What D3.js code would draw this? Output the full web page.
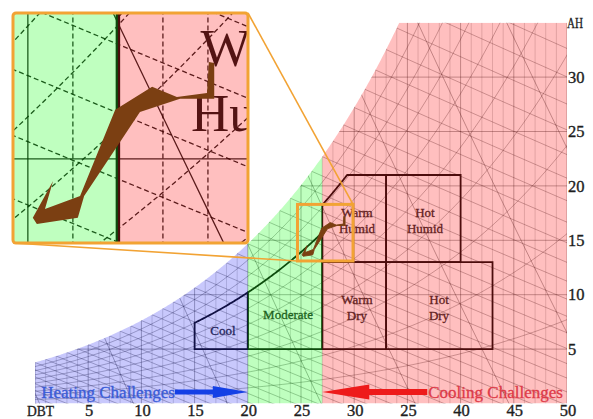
<!DOCTYPE html>
<html>
<head>
<meta charset="utf-8">
<script src="https://cdn.jsdelivr.net/npm/d3@7/dist/d3.min.js"></script>
<style>
  html, body { margin: 0; padding: 0; background: #ffffff; }
  svg { display: block; }
  text { font-family: "Liberation Serif", "Times New Roman", serif; }
</style>
</head>
<body>
<svg id="chart" width="593" height="419"></svg>
<script>
// ---- axes ----
const dbtDomain = [0, 50];   // dry-bulb temperature, °C
const ahDomain = [0, 35];    // absolute humidity, g/kg
const dbtTicks = [5, 10, 15, 20, 25, 30, 35, 40, 45, 50];
const dbtTickLabels = ["5", "10", "15", "20", "25", "30", "25", "40", "45", "50"];
const ahTicks = [5, 10, 15, 20, 25, 30];

// ---- psychrometric grid levels ----
const dbtGrid = d3.range(0, 51, 1);                       // °C
const ahGrid = [5, 10, 15, 20, 25, 30];                   // g/kg
const rhGrid = [10, 20, 30, 40, 50, 60, 70, 80, 90];      // %
const wetBulbGrid = d3.range(-6, 37, 1);                  // °C
const volumeGrid = [0.775, 0.8, 0.825, 0.85, 0.875, 0.9, 0.925, 0.95]; // m3/kg

// ---- climate bands along DBT ----
const bandNames = ["Heating", "Moderate", "Cooling"];
const bandStart = [0, 20, 27];
const bandEnd = [20, 27, 50];
const bandColor = ["#1010f0", "#00ff00", "#ff0000"];

// ---- comfort zones ----
const zoneNames = ["Cool", "Moderate", "Warm Humid", "Hot Humid", "Warm Dry", "Hot Dry"];
const zoneDbtMin = [15, 20, 27, 33, 27, 33];
const zoneDbtMax = [20, 27, 33, 40, 33, 43];
const zoneAhMin = [5, 5, 13, 13, 5, 5];
const zoneAhMax = [35, 35, 21, 21, 13, 13];
const zoneRhMax = [70, 70, 81, 100, 100, 100];

// ---- measured indoor trajectory (outline of the plotted band) ----
const trajDbt = [25.11, 25.56, 25.38, 26.16, 26.94, 27.76, 28.31, 28.98, 29.02, 29.14, 29.14, 28.38, 27.49, 26.25, 26.11, 25.20];
const trajAh  = [13.67, 14.50, 13.87, 14.16, 16.11, 16.63, 16.40, 16.49, 17.19, 17.17, 16.36, 16.36, 16.06, 14.16, 13.67, 13.53];

// ---- magnified window ----
const zoomDbt = [24.67, 29.89];
const zoomAh = [13.1, 18.3];

// ---- layout ----
const zoneLabelDbt = [17.67, 23.78, 30.26, 36.65, 30.26, 37.97];
const zoneLabelAh = [6.76, 8.23, 16.78, 16.78, 8.85, 8.85];
const labelLineAh = 1.47;
const trajColor = "#7b3f12";
const orange = "#f2a334";

// ---- psychrometrics ----
const P = 101.325;
const pws = t => 0.6112 * Math.exp(17.67 * t / (t + 243.5));
const wFromPv = pv => 622 * pv / (P - pv);
const wSat = t => wFromPv(pws(t));
const wRH = (t, rh) => wFromPv(rh / 100 * pws(t));
const wWetBulb = (t, tw) => {
  const ws = wSat(tw) / 1000;
  return 1000 * ((2501 - 2.326 * tw) * ws - 1.006 * (t - tw)) / (2501 + 1.86 * t - 4.186 * tw);
};
const wVolume = (t, v) => 1000 * (v * P / (0.287042 * (t + 273.15)) - 1) / 1.607858;

// saturation temperature at the top of the chart
let lo = 20, hi = 45;
for (let k = 0; k < 60; k++) { const m = (lo + hi) / 2; if (wSat(m) < ahDomain[1]) lo = m; else hi = m; }
const tTop = lo;

function saturationOutline() {
  const pts = [[dbtDomain[0], ahDomain[0]]];
  for (let t = dbtDomain[0]; t < tTop; t += 0.1) pts.push([t, wSat(t)]);
  pts.push([tTop, ahDomain[1]], [dbtDomain[1], ahDomain[1]], [dbtDomain[1], ahDomain[0]]);
  return pts;
}

function zonePoints(i) {
  const t0 = zoneDbtMin[i], t1 = zoneDbtMax[i];
  const top = t => Math.min(zoneAhMax[i], wRH(t, zoneRhMax[i]));
  const pts = [[t0, zoneAhMin[i]]];
  for (let k = 0; k <= 120; k++) { const t = t0 + (t1 - t0) * k / 120; pts.push([t, top(t)]); }
  pts.push([t1, zoneAhMin[i]]);
  return pts;
}

// ---- one rendering of the chart body for a given pair of scales ----
function drawScene(root, xs, ys, st, id) {
  const ln = d3.line().x(d => xs(d[0])).y(d => ys(d[1]));
  root.append("clipPath").attr("id", id + "-sat")
    .append("path").attr("d", ln(saturationOutline()) + "Z");
  const body = root.append("g").attr("clip-path", `url(#${id}-sat)`);

  const grid = body.append("g").attr("fill", "none").attr("stroke", "#000");
  grid.append("g").selectAll("line").data(dbtGrid).join("line")
    .attr("x1", d => xs(d)).attr("x2", d => xs(d))
    .attr("y1", ys(ahDomain[0])).attr("y2", ys(ahDomain[1]))
    .attr("stroke-width", st.gridW)
    .attr("stroke-opacity", d => d % 5 === 0 ? st.majorOp : st.vertOp)
    .attr("stroke-dasharray", d => d % 5 === 0 ? null : st.dash);
  grid.append("g").selectAll("line").data(ahGrid).join("line")
    .attr("x1", xs(dbtDomain[0])).attr("x2", xs(dbtDomain[1]))
    .attr("y1", d => ys(d)).attr("y2", d => ys(d))
    .attr("stroke-width", st.gridW).attr("stroke-opacity", st.majorOp);
  grid.append("g").selectAll("path").data(rhGrid).join("path")
    .attr("d", rh => ln(d3.range(-2, 52.01, 0.25).map(t => [t, wRH(t, rh)]).filter(p => p[1] < 40)))
    .attr("stroke-width", st.gridW).attr("stroke-opacity", st.diagOp)
    .attr("stroke-dasharray", st.dash);
  grid.append("g").selectAll("path").data(wetBulbGrid).join("path")
    .attr("d", tw => ln(d3.range(tw, 52.01, 1).map(t => [t, wWetBulb(t, tw)])))
    .attr("stroke-width", st.gridW).attr("stroke-opacity", st.diagOp)
    .attr("stroke-dasharray", st.dash);
  grid.append("g").selectAll("path").data(volumeGrid).join("path")
    .attr("d", v => ln(d3.range(-5, 55.01, 0.5).map(t => [t, wVolume(t, v)]).filter(p => p[1] > -3 && p[1] < 45)))
    .attr("stroke-width", st.gridW).attr("stroke-opacity", st.majorOp);

  // comfort zone outlines
  body.append("g").attr("fill", "none").attr("stroke", "#111")
    .attr("stroke-width", st.zoneW).attr("stroke-linejoin", "miter")
    .selectAll("path").data(st.zones).join("path")
    .attr("d", i => ln(zonePoints(i)) + "Z");

  // zone names
  const labels = body.append("g").attr("text-anchor", "middle")
    .attr("font-size", st.labelSize).attr("fill", st.labelFill)
    .attr("stroke", st.labelFill).attr("stroke-width", st.labelStroke);
  st.labelZones.forEach(i => {
    const parts = zoneNames[i].split(" ");
    parts.forEach((p, k) => {
      const off = (k - (parts.length - 1) / 2) * labelLineAh;
      labels.append("text")
        .attr("x", xs(zoneLabelDbt[i])).attr("y", ys(zoneLabelAh[i] - off))
        .attr("dy", "0.35em").text(p);
    });
  });

  // translucent climate bands tint everything beneath them
  body.append("g").selectAll("rect").data(bandNames).join("rect")
    .attr("x", (d, i) => xs(bandStart[i]))
    .attr("width", (d, i) => xs(bandEnd[i]) - xs(bandStart[i]))
    .attr("y", ys(ahDomain[1])).attr("height", ys(ahDomain[0]) - ys(ahDomain[1]))
    .attr("fill", (d, i) => bandColor[i]).attr("fill-opacity", (d, i) => i === 0 ? 0.23 : 0.25);

  // trajectory
  body.append("path")
    .attr("d", ln(trajDbt.map((t, i) => [t, trajAh[i]])) + "Z")
    .attr("fill", trajColor).attr("stroke", trajColor)
    .attr("stroke-width", st.trajW).attr("stroke-linejoin", "round");
}

const svg = d3.select("#chart");
const x = d3.scaleLinear().domain(dbtDomain).range([35, 567]);
const y = d3.scaleLinear().domain(ahDomain).range([403.5, 22.7]);

drawScene(svg.append("g"), x, y, {
  gridW: 0.8, vertOp: 0.2, majorOp: 0.4, diagOp: 0.34, dash: null,
  zoneW: 1.8, zones: [0, 1, 2, 3, 4, 5], labelZones: [0, 1, 2, 3, 4, 5],
  labelSize: 13, labelFill: "#2c2c2c", labelStroke: 0.3, trajW: 0.9
}, "main");

// ---- axis labels ----
const axisText = svg.append("g").attr("fill", "#1e1e1e").attr("stroke", "#1e1e1e")
  .attr("stroke-width", 0.35).attr("font-size", 16.5);
axisText.selectAll(".xt").data(dbtTicks).join("text")
  .attr("x", d => x(d) + 1).attr("y", 415.5).attr("text-anchor", "middle")
  .text((d, i) => dbtTickLabels[i]);
axisText.selectAll(".yt").data(ahTicks).join("text")
  .attr("x", x(dbtDomain[1]) + 1).attr("y", d => y(d)).attr("dy", "0.35em")
  .text(d => d);
axisText.append("text").attr("x", 27).attr("y", 415.5).attr("font-size", 15)
  .attr("textLength", 27).attr("lengthAdjust", "spacingAndGlyphs").text("DBT");
axisText.append("text").attr("x", x(dbtDomain[1])).attr("y", y(ahDomain[1])).attr("dy", "0.35em")
  .attr("font-size", 15).attr("textLength", 16).attr("lengthAdjust", "spacingAndGlyphs").text("AH");

// ---- heating / cooling annotations ----
const arrowY = y(1.05);
function arrow(tipX, dir, len, headLen, headH, shaftH, color) {
  const tail = tipX - dir * len, neck = tipX - dir * headLen;
  const pts = [[tail, arrowY - shaftH / 2], [neck, arrowY - shaftH / 2], [neck, arrowY - headH / 2],
               [tipX, arrowY], [neck, arrowY + headH / 2], [neck, arrowY + shaftH / 2], [tail, arrowY + shaftH / 2]];
  svg.append("path").attr("d", d3.line()(pts) + "Z").attr("fill", color);
  return tail;
}
const heatTail = arrow(x(bandStart[1]), 1, 73, 35, 12, 5, "#1440e6");
svg.append("text").attr("x", heatTail).attr("y", arrowY).attr("dy", "0.33em")
  .attr("text-anchor", "end").attr("font-size", 17).attr("fill", "#3a5cd8")
  .attr("stroke", "#3a5cd8").attr("stroke-width", 0.3)
  .text("Heating Challenges");
const coolTail = arrow(x(bandStart[2]), -1, 105, 47, 15, 6, "#ee1a1a");
svg.append("text").attr("x", coolTail + 1).attr("y", arrowY).attr("dy", "0.33em")
  .attr("font-size", 17).attr("fill", "#de3a48")
  .attr("stroke", "#de3a48").attr("stroke-width", 0.3)
  .text("Cooling Challenges");

// ---- magnified window ----
const xi = d3.scaleLinear().domain(zoomDbt).range([13, 248]);
const yi = d3.scaleLinear().domain(zoomAh).range([243, 13]);
const bx0 = x(zoomDbt[0]), bx1 = x(zoomDbt[1]), by0 = y(zoomAh[1]), by1 = y(zoomAh[0]);

const conn = svg.append("g").attr("stroke", orange).attr("stroke-width", 1.6);
conn.append("line").attr("x1", xi.range()[1]).attr("y1", yi.range()[1]).attr("x2", bx1).attr("y2", by0);
conn.append("line").attr("x1", xi.range()[0]).attr("y1", yi.range()[0]).attr("x2", bx0).attr("y2", by1);

svg.append("rect").attr("x", bx0).attr("y", by0).attr("width", bx1 - bx0).attr("height", by1 - by0)
  .attr("fill", "none").attr("stroke", orange).attr("stroke-width", 3);

const inset = svg.append("g");
inset.append("clipPath").attr("id", "zoom-rect").append("rect")
  .attr("x", xi.range()[0]).attr("y", yi.range()[1])
  .attr("width", xi.range()[1] - xi.range()[0]).attr("height", yi.range()[0] - yi.range()[1]);
const insetBody = inset.append("g").attr("clip-path", "url(#zoom-rect)");
insetBody.append("rect").attr("x", xi.range()[0]).attr("y", yi.range()[1])
  .attr("width", xi.range()[1] - xi.range()[0]).attr("height", yi.range()[0] - yi.range()[1])
  .attr("fill", "#fff");
drawScene(insetBody, xi, yi, {
  gridW: 1.3, vertOp: 0.85, majorOp: 0.85, diagOp: 0.85, dash: "5,3",
  zoneW: 4.5, zones: [2, 3, 4, 5], labelZones: [2],
  labelSize: 53, labelFill: "#1a1a1a", labelStroke: 0, trajW: 0
}, "zoom");
inset.append("rect").attr("x", xi.range()[0]).attr("y", yi.range()[1])
  .attr("width", xi.range()[1] - xi.range()[0]).attr("height", yi.range()[0] - yi.range()[1])
  .attr("rx", 3).attr("fill", "none").attr("stroke", orange).attr("stroke-width", 3);
</script>
</body>
</html>
